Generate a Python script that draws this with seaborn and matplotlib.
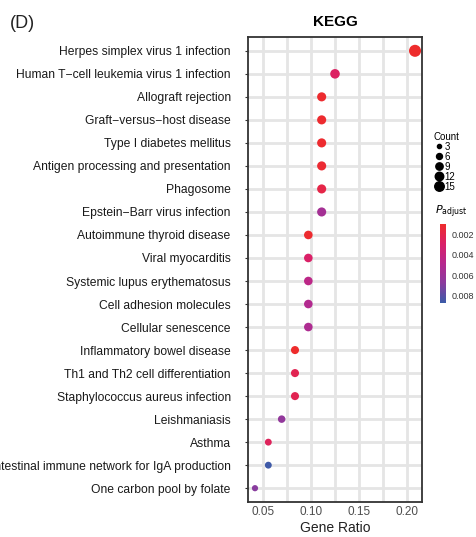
import numpy as np
import pandas as pd
import matplotlib
matplotlib.use("Agg")
import matplotlib.pyplot as plt
import seaborn as sns
from matplotlib.colors import LinearSegmentedColormap, Normalize
from matplotlib.lines import Line2D
from matplotlib.cm import ScalarMappable

# KEGG enrichment (top to bottom as in the figure)
terms = ["Herpes simplex virus 1 infection",
         "Human T\u2212cell leukemia virus 1 infection",
         "Allograft rejection",
         "Graft\u2212versus\u2212host disease",
         "Type I diabetes mellitus",
         "Antigen processing and presentation",
         "Phagosome",
         "Epstein\u2212Barr virus infection",
         "Autoimmune thyroid disease",
         "Viral myocarditis",
         "Systemic lupus erythematosus",
         "Cell adhesion molecules",
         "Cellular senescence",
         "Inflammatory bowel disease",
         "Th1 and Th2 cell differentiation",
         "Staphylococcus aureus infection",
         "Leishmaniasis",
         "Asthma",
         "Intestinal immune network for IgA production",
         "One carbon pool by folate"]
counts = [15, 9, 8, 8, 8, 8, 8, 8, 7, 7, 7, 7, 7, 6, 6, 6, 5, 4, 4, 3]
gene_ratio = [c / 72 for c in counts]
p_adjust = [0.0010, 0.0027, 0.0011, 0.0011, 0.0011, 0.0012, 0.0019, 0.0056,
            0.0011, 0.0029, 0.0045, 0.0050, 0.0052, 0.0010, 0.0022, 0.0022,
            0.0064, 0.0025, 0.0086, 0.0068]

df = pd.DataFrame({"Description": terms, "GeneRatio": gene_ratio,
                   "Count": counts, "p.adjust": p_adjust})
df["Description"] = pd.Categorical(df["Description"], categories=terms, ordered=True)

cmap = LinearSegmentedColormap.from_list(
    "padj", [(0, "#EE2C2C"), (0.25, "#DA2068"), (0.5, "#B6288E"), (0.75, "#8A3C9E"), (1, "#3B5BA8")])
norm = Normalize(vmin=0.00098, vmax=0.0087)

plt.rcParams["font.family"] = ["Liberation Sans", "DejaVu Sans"]
fig = plt.figure(figsize=(4.76, 5.37), dpi=100)
ax = fig.add_axes([248 / 476, 35 / 537, 174 / 476, 465 / 537])

sns.scatterplot(data=df, x="GeneRatio", y="Description", hue="p.adjust", size="Count",
                palette=cmap, hue_norm=norm, sizes=(20, 75), size_norm=(3, 15),
                edgecolor="none", legend=False, ax=ax, zorder=3)

ax.set_xlim(0.0344, 0.2156)
ax.set_ylim(len(terms) - 1 + 0.6, -0.6)
ax.set_xticks([0.05, 0.10, 0.15, 0.20])
ax.set_xticklabels(["0.05", "0.10", "0.15", "0.20"])
ax.set_xticks([0.075, 0.125, 0.175], minor=True)
ax.grid(True, which="both", axis="x", color="#E5E5E5", linewidth=2.0, zorder=0)
ax.grid(True, which="major", axis="y", color="#E5E5E5", linewidth=2.0, zorder=0)
ax.set_axisbelow(True)
for s in ax.spines.values():
    s.set_color("#333333")
    s.set_linewidth(1.3)
ax.tick_params(axis="x", which="both", length=0, labelsize=8.5, labelcolor="#4D4D4D", pad=3)
ax.tick_params(axis="y", length=2.5, width=0.8, color="#333333", labelsize=8.7,
               labelcolor="#1A1A1A", pad=10)
ax.set_xlabel("Gene Ratio", fontsize=10, color="#222222", labelpad=2)
ax.set_ylabel("")
ax.set_title("KEGG", fontsize=11, fontweight="bold", pad=8)

fig.text(10 / 476, 1 - 24 / 537, "(D)", fontsize=13, va="center", ha="left", color="#222222")

# size legend
handles = [Line2D([], [], marker="o", linestyle="none", color="black",
                  markersize=np.sqrt(10 + (c - 3) / 12 * 42) * 0.95) for c in [3, 6, 9, 12, 15]]
leg = fig.legend(handles, ["3", "6", "9", "12", "15"], title="Count",
                 loc="upper left", bbox_to_anchor=(430 / 476, 1 - 128 / 537),
                 frameon=False, fontsize=7, title_fontsize=7, labelspacing=0.0,
                 handletextpad=0.1, handlelength=1.0, borderaxespad=0)
leg._legend_box.align = "left"

# colour bar
cax = fig.add_axes([440 / 476, 1 - 303 / 537, 6 / 476, 79 / 537])
cb = fig.colorbar(ScalarMappable(norm=norm, cmap=cmap), cax=cax)
cax.invert_yaxis()
cb.set_ticks([0.002, 0.004, 0.006, 0.008])
cb.set_ticklabels(["0.002", "0.004", "0.006", "0.008"])
cb.outline.set_visible(False)
cax.tick_params(length=2, color="white", labelsize=6.5, labelcolor="#333333", pad=2)
fig.text(435 / 476, 1 - 212 / 537, r"$P_{\mathrm{adjust}}$", fontsize=8, va="center", ha="left")

fig.savefig("out.png", dpi=100)
